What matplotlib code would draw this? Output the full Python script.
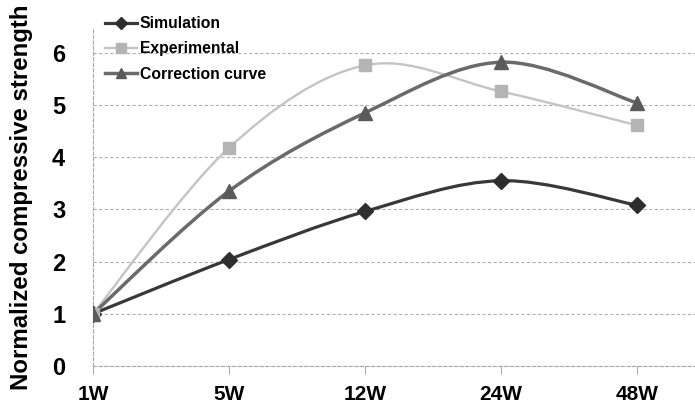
import matplotlib
matplotlib.use("Agg")
import matplotlib.pyplot as plt
from matplotlib.path import Path
from matplotlib.patches import PathPatch
from matplotlib.lines import Line2D

plt.rcParams['font.family'] = ['Liberation Sans', 'DejaVu Sans']
plt.rcParams['font.weight'] = 'bold'

weeks = ["1W", "5W", "12W", "24W", "48W"]
simulation = [1.0, 2.04, 2.96, 3.55, 3.08]
experimental = [1.0, 4.18, 5.76, 5.26, 4.61]
correction = [1.0, 3.35, 4.85, 5.82, 5.04]

series = [
    ("Simulation", simulation, "#383838", "#2e2e2e", "D", 8, 2.3),
    ("Experimental", experimental, "#c4c4c4", "#b4b4b4", "s", 9, 1.7),
    ("Correction curve", correction, "#6a6a6a", "#5a5a5a", "^", 10, 2.5),
]


def smooth_path(xs, ys):
    # excel style smoothed line: cubic bezier through the points
    pts = list(zip(xs, ys))
    verts = [pts[0]]
    codes = [Path.MOVETO]
    n = len(pts)
    for i in range(n - 1):
        p0 = pts[i - 1] if i > 0 else pts[i]
        p1 = pts[i]
        p2 = pts[i + 1]
        p3 = pts[i + 2] if i + 2 < n else pts[i + 1]
        c1 = (p1[0] + (p2[0] - p0[0]) / 6, p1[1] + (p2[1] - p0[1]) / 6)
        c2 = (p2[0] - (p3[0] - p1[0]) / 6, p2[1] - (p3[1] - p1[1]) / 6)
        verts += [c1, c2, p2]
        codes += [Path.CURVE4] * 3
    return Path(verts, codes)


fig = plt.figure(figsize=(6.95, 4.05), dpi=100)
ax = fig.add_axes([93 / 695, 1 - 366 / 405, 1 - 93 / 695, (366 - 28) / 405])

x = list(range(len(weeks)))
handles = []
for name, vals, lc, mc, mk, ms, lw in series:
    ax.add_patch(PathPatch(smooth_path(x, vals), facecolor="none",
                           edgecolor=lc, lw=lw, zorder=3))
    ax.plot(x, vals, linestyle="none", marker=mk, markersize=ms,
            color=mc, markeredgecolor=mc, zorder=4)
    handles.append(Line2D([], [], color=lc, lw=lw, marker=mk,
                          markersize=ms * 0.75, markerfacecolor=mc,
                          markeredgecolor=mc))

ax.set_xlim(0, (695 - 93) / 136)
ax.set_ylim(0, (366 - 28) / 52.2)
ax.set_xticks(x)
ax.set_xticklabels(weeks, fontsize=15, fontweight="bold")
ax.set_yticks(range(7))
ax.set_yticklabels([str(v) for v in range(7)], fontsize=17, fontweight="bold")
ax.tick_params(axis="x", length=6, color="#aaaaaa", pad=8)
ax.tick_params(axis="y", length=0, pad=20)

ax.grid(axis="y", color="#b0b0b0", linestyle=(0, (3, 2)), lw=0.8)
ax.set_axisbelow(True)
for s in ["top", "right"]:
    ax.spines[s].set_visible(False)
for s in ["left", "bottom"]:
    ax.spines[s].set_color("#a8a8a8")
    ax.spines[s].set_linestyle((0, (3, 2)))
    ax.spines[s].set_linewidth(0.8)

ax.set_ylabel("Normalized compressive strength", fontsize=17.3,
              fontweight="bold")
ax.yaxis.set_label_coords((33 - 93) / 602, 0.5)

fig.legend(handles, [s[0] for s in series], loc="upper left",
           bbox_to_anchor=(91 / 695, 1 - 2 / 405), frameon=False,
           handlelength=2.0, handletextpad=0.2,
           labelspacing=0.65, prop={"weight": "bold", "size": 11.3})

fig.savefig("out.png", dpi=100)
